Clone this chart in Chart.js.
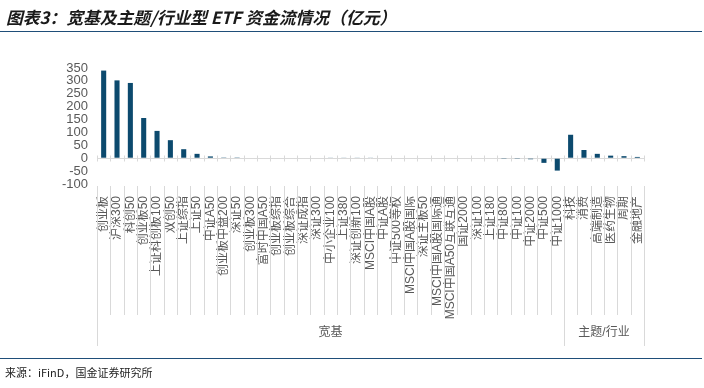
<!DOCTYPE html>
<html>
<head>
<meta charset="utf-8">
<script src="https://cdn.jsdelivr.net/npm/chart.js@4"></script>
<style>
  body { margin: 0; background: #fff; }
  #wrap { position: relative; width: 704px; height: 388px; overflow: hidden; }
  #chart { position: absolute; left: 0; top: 0; }
  .title {
    position: absolute; left: 6px; top: 5px;
    font: italic bold 16.8px "Noto Sans CJK SC", sans-serif; color: #1a1a1a;
  }
  .rule { position: absolute; left: 0; width: 702px; height: 0; border-top: 1.5px solid #1f4e79; }
  .source {
    position: absolute; left: 5px; top: 364px;
    font: 11px "Noto Sans CJK SC", sans-serif; color: #222;
  }
</style>
</head>
<body>
<div id="wrap">
  <canvas id="chart" width="704" height="388"></canvas>
  <div class="title">图表3：宽基及主题/行业型 ETF 资金流情况（亿元）</div>
  <div class="rule" style="top:31px"></div>
  <div class="rule" style="top:358px"></div>
  <div class="source">来源：iFinD，国金证券研究所</div>
</div>
<script>
const categories = [
  '创业板', '沪深300', '科创50', '创业板50', '上证科创板100', '双创50', '上证综指', '上证50',
  '中证A50', '创业板中盘200', '深证50', '创业板300', '富时中国A50', '创业板综指', '创业板综合',
  '深证成指', '深证300', '中小企业100', '上证380', '深证创新100', 'MSCI中国A股', '中证A股',
  '中证500等权', 'MSCI中国A股国际', '深证主板50', 'MSCI中国A股国际通', 'MSCI中国A50互联互通',
  '国证2000', '深证100', '上证180', '中证800', '中证100', '中证2000', '中证500', '中证1000',
  '科技', '消费', '高端制造', '医药生物', '周期', '金融地产'
];
const flows = [
  340, 302, 292, 156, 106, 70, 35, 17,
  7, 3, 3, 2, 2, 2, 2,
  2, 2, 1.5, 1.5, 1.5, 1.5, 0,
  0, -2, -2, -2, -2,
  -2, -2, -2, -3, -3, -4, -18, -48,
  91, 32, 17, 10, 8, 5
];
const groupNames = ['宽基', '主题/行业'];
const groupSizes = [35, 6];
const yTicks = { min: -100, max: 350, step: 50 };

const barColor = '#0c4a6e';
const lineGray = '#d9d9d9';
const textGray = '#595959';

// group frame under the category labels, plus the cross ticks on the zero line
const categoryFrame = {
  id: 'categoryFrame',
  afterDraw(chart) {
    const ctx = chart.ctx;
    const x = chart.scales.x, y = chart.scales.y;
    const area = chart.chartArea;
    const step = x.getPixelForValue(1) - x.getPixelForValue(0);
    const edge = i => x.getPixelForValue(i) - step / 2;
    const groupEdges = [0];
    groupSizes.forEach(n => groupEdges.push(groupEdges[groupEdges.length - 1] + n));
    const y0 = Math.round(y.getPixelForValue(0)) + 0.5;

    ctx.save();
    ctx.strokeStyle = lineGray;
    ctx.lineWidth = 1;
    for (let i = 0; i <= categories.length; i++) {
      const px = Math.round(edge(i)) + 0.5;
      const long = groupEdges.includes(i);
      ctx.beginPath();
      ctx.moveTo(px, area.bottom + 2);
      ctx.lineTo(px, long ? 346 : 315);
      ctx.moveTo(px, y0 - 3);
      ctx.lineTo(px, y0 + 3);
      ctx.stroke();
    }
    ctx.fillStyle = textGray;
    ctx.font = '12px "Liberation Sans", "Noto Sans CJK SC", sans-serif';
    ctx.textAlign = 'center';
    ctx.textBaseline = 'middle';
    groupNames.forEach((name, g) => {
      const cx = (edge(groupEdges[g]) + edge(groupEdges[g + 1])) / 2;
      ctx.fillText(name, cx, 333);
    });
    ctx.restore();
  }
};

new Chart(document.getElementById('chart'), {
  type: 'bar',
  data: {
    labels: categories,
    datasets: [{
      data: flows,
      backgroundColor: barColor,
      barPercentage: 0.38,
      categoryPercentage: 1
    }]
  },
  options: {
    responsive: false,
    animation: false,
    layout: { padding: { top: 68, right: 60, left: 0, bottom: 0 } },
    plugins: { legend: { display: false }, tooltip: { enabled: false } },
    scales: {
      x: {
        grid: { display: false },
        border: { display: false },
        ticks: {
          autoSkip: false,
          minRotation: 90,
          maxRotation: 90,
          padding: 4,
          color: textGray,
          font: { family: '"Liberation Sans", "Noto Sans CJK SC", sans-serif', size: 12 }
        },
        afterFit(scale) { scale.height = 204; }
      },
      y: {
        min: yTicks.min,
        max: yTicks.max,
        border: { display: false },
        grid: {
          drawTicks: false,
          color: c => (c.tick && c.tick.value === 0 ? lineGray : 'transparent')
        },
        ticks: {
          stepSize: yTicks.step,
          autoSkip: false,
          padding: 9,
          color: textGray,
          font: { family: '"Liberation Sans", sans-serif', size: 13 }
        },
        afterFit(scale) { scale.width = 97; }
      }
    }
  },
  plugins: [categoryFrame]
});
</script>
</body>
</html>
